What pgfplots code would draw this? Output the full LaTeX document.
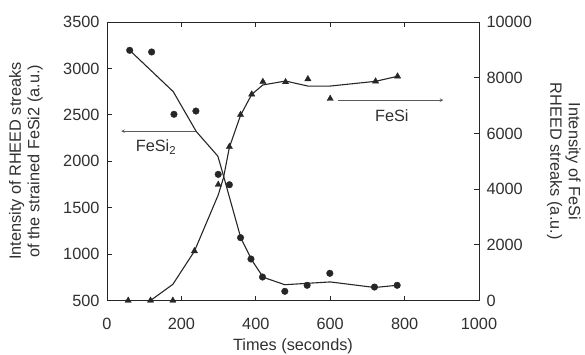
\documentclass[border=0pt]{standalone}
\usepackage{pgfplots}
\pgfplotsset{compat=1.18}
\usepackage{fontspec}
\setmainfont{Liberation Sans}
\definecolor{ink}{HTML}{262626}
\definecolor{txt}{HTML}{303030}
\definecolor{arr}{HTML}{5a5a5a}
\begin{document}
\begin{tikzpicture}[font=\fontsize{16.3bp}{18.5bp}\selectfont, text=txt]
\pgfplotsset{
  common/.style={
    scale only axis, width=372bp, height=278.5bp,
    xmin=0, xmax=1000,
    /pgf/number format/assume math mode=true,
    /pgf/number format/1000 sep={},
    scaled y ticks=false, scaled x ticks=false,
    major tick length=5bp,
    every tick/.style={ink, line width=0.9bp},
    axis line style={ink, line width=0.9bp},
    tick label style={txt},
  }
}
\begin{axis}[common, name=ax,
  ymin=500, ymax=3500,
  ytick={500,1000,...,3500},
  xtick={0,200,...,1000},
  xtick pos=both, ytick pos=left,
  xticklabel style={yshift=-14bp},
  yticklabel style={xshift=-4bp},
  xlabel={Times (seconds)},
  xlabel style={at={(axis description cs:0.5,-0.163)}, anchor=center},
  ylabel={Intensity of RHEED streaks\\of the strained FeSi2 (a.u.)},
  ylabel style={align=center, at={(axis description cs:-0.218,0.5)}, anchor=center},
  clip=false]
\addplot[ink, line width=1.1bp] coordinates {
(61,3195)(178,2750)(240,2320)(298,2055)(312,1860)(330,1600)(360,1170)(390,930)(420,750)(478,670)(600,700)(720,640)(780,664)};
\addplot[only marks, mark=*, mark size=3.3bp, ink] coordinates {
(61,3195)(120,3177)(180,2506)(239,2541)(299,1859)(329,1747)(359,1177)(387,947)(418,753)(478,599)(538,664)(599,793)(719,645)(780,664)};
\draw[arr, line width=0.6bp, -stealth] (axis cs:240,2325) -- (axis cs:38,2325);
\node[anchor=base west, inner sep=0] at (axis cs:77,2100) {FeSi\textsubscript{2}};
\end{axis}
\begin{axis}[common,
  ymin=0, ymax=10000,
  ytick={0,2000,...,10000},
  axis x line=none, axis y line*=right,
  yticklabel style={xshift=4bp},
  ylabel={Intensity of FeSi\\RHEED streaks (a.u.)},
  ylabel style={align=center, rotate=180, at={(axis description cs:1.228,0.5)}, anchor=center},
  clip=false]
\addplot[ink, line width=1.1bp] coordinates {
(117,0)(177,580)(235,1770)(299,3790)(313,4400)(329,5500)(359,6650)(389,7400)(419,7740)(480,7880)(540,7700)(600,7700)(722,7870)(781,8050)};
\addplot[only marks, mark=triangle*, mark size=3.6bp, ink] coordinates {
(57,0)(117,0)(177,0)(235,1777)(299,4158)(329,5522)(359,6671)(389,7404)(419,7856)(480,7846)(540,7953)(600,7246)(722,7871)(781,8050)};
\draw[arr, line width=0.6bp, -stealth] (axis cs:622,7194) -- (axis cs:904,7194);
\node[anchor=base west, inner sep=0] at (axis cs:720,6420) {FeSi};
\end{axis}
\pgfresetboundingbox
\path[use as bounding box] (ax.south west) ++(-107bp,-54.5bp) rectangle ++(585bp,355bp);
\end{tikzpicture}
\end{document}
